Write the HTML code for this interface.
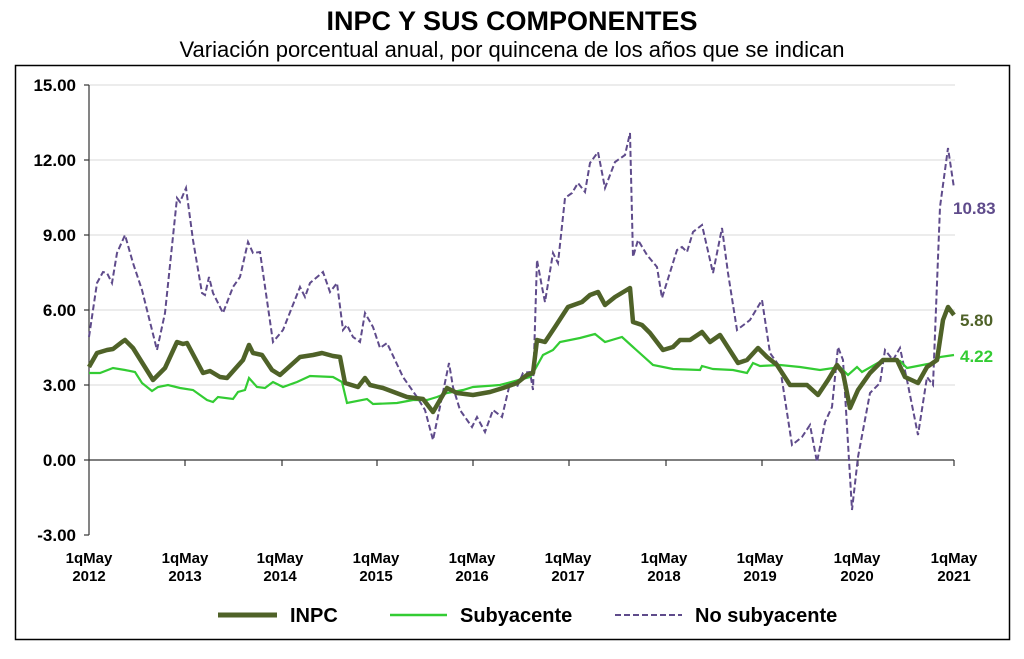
<!DOCTYPE html>
<html><head><meta charset="utf-8"><style>
body{margin:0;background:#fff;width:1024px;height:654px;overflow:hidden;font-family:"Liberation Sans",Arial,sans-serif}
</style></head><body>
<svg width="1024" height="654" xmlns="http://www.w3.org/2000/svg" font-family="Liberation Sans, Arial, sans-serif">
<text x="512" y="30" text-anchor="middle" font-size="27" font-weight="bold">INPC Y SUS COMPONENTES</text>
<text x="512" y="57" text-anchor="middle" font-size="22">Variación porcentual anual, por quincena de los años que se indican</text>
<rect x="15.5" y="65.5" width="994" height="574" fill="none" stroke="#000" stroke-width="1.5"/>
<g stroke="#d9d9d9" stroke-width="1">
<line x1="89" y1="85" x2="955" y2="85"/><line x1="89" y1="160" x2="955" y2="160"/><line x1="89" y1="235" x2="955" y2="235"/><line x1="89" y1="310" x2="955" y2="310"/><line x1="89" y1="385" x2="955" y2="385"/>
</g>
<g stroke="#333" stroke-width="1.2">
<line x1="89" y1="85" x2="89" y2="535"/>
<line x1="84" y1="85" x2="89" y2="85"/><line x1="84" y1="160" x2="89" y2="160"/><line x1="84" y1="235" x2="89" y2="235"/><line x1="84" y1="310" x2="89" y2="310"/><line x1="84" y1="385" x2="89" y2="385"/><line x1="84" y1="460" x2="89" y2="460"/><line x1="84" y1="535" x2="89" y2="535"/>
<line x1="89" y1="460" x2="954" y2="460"/>
<line x1="185" y1="460" x2="185" y2="466"/><line x1="282" y1="460" x2="282" y2="466"/><line x1="377" y1="460" x2="377" y2="466"/><line x1="473" y1="460" x2="473" y2="466"/><line x1="569" y1="460" x2="569" y2="466"/><line x1="666" y1="460" x2="666" y2="466"/><line x1="762" y1="460" x2="762" y2="466"/><line x1="858" y1="460" x2="858" y2="466"/><line x1="954" y1="460" x2="954" y2="466"/>
</g>
<g font-size="17" font-weight="bold" text-anchor="end">
<text x="76" y="91">15.00</text><text x="76" y="166">12.00</text><text x="76" y="241">9.00</text><text x="76" y="316">6.00</text><text x="76" y="391">3.00</text><text x="76" y="466">0.00</text><text x="76" y="541">-3.00</text>
</g>
<g font-size="15" font-weight="bold" text-anchor="middle">
<text x="89" y="563">1qMay</text><text x="89" y="581">2012</text>
<text x="185" y="563">1qMay</text><text x="185" y="581">2013</text>
<text x="280" y="563">1qMay</text><text x="280" y="581">2014</text>
<text x="376" y="563">1qMay</text><text x="376" y="581">2015</text>
<text x="472" y="563">1qMay</text><text x="472" y="581">2016</text>
<text x="568" y="563">1qMay</text><text x="568" y="581">2017</text>
<text x="664" y="563">1qMay</text><text x="664" y="581">2018</text>
<text x="760" y="563">1qMay</text><text x="760" y="581">2019</text>
<text x="857" y="563">1qMay</text><text x="857" y="581">2020</text>
<text x="954" y="563">1qMay</text><text x="954" y="581">2021</text>
</g>
<polyline fill="none" stroke="#5f4b8b" stroke-width="2" stroke-dasharray="6,3" points="89,337 97,283 103,272 107,273 112,283 117,253 125,235 133,263 142,290 157,350 165,313 177,198 180,202 186,188 193,240 202,293 205,295 209,277 213,293 223,313 233,287 240,277 248,242 253,253 260,252 273,342 283,330 300,287 305,297 310,283 323,272 330,292 337,283 343,330 347,325 353,337 360,342 365,313 373,327 380,348 387,343 403,377 417,397 425,410 433,440 442,397 449,363 453,387 460,410 472,427 477,417 485,432 493,410 502,417 510,383 517,387 523,373 530,372 533,390 537,260 542,287 545,302 553,253 558,263 565,198 572,193 578,183 585,192 590,163 598,152 605,188 615,162 625,155 630,133 633,257 638,240 647,255 657,267 662,298 677,250 682,247 687,252 693,232 702,225 713,273 722,228 728,273 737,330 750,320 762,300 770,353 780,367 792,445 802,437 810,425 817,462 825,422 832,407 838,347 843,360 852,510 858,457 870,393 880,383 885,350 893,360 900,348 907,380 918,435 927,377 933,385 940,207 948,148 954,188"/>
<polyline fill="none" stroke="#33cc33" stroke-width="2.2" points="89,373 100,373 113,368 125,370 135,372 142,383 152,391 158,387 168,385 180,388 193,390 207,400 213,402 218,397 233,399 238,392 245,390 249,378 257,387 265,388 273,382 283,387 297,382 310,376 333,377 342,382 347,403 367,399 373,404 397,403 413,400 427,400 437,397 447,393 463,390 473,387 500,385 530,377 533,373 543,355 553,350 560,342 580,338 595,334 605,342 622,337 633,347 653,365 673,369 700,370 702,366 713,369 733,370 747,373 753,363 760,366 780,365 800,367 820,370 840,367 848,375 857,367 862,372 883,360 900,361 907,368 933,363 940,357 954,355"/>
<polyline fill="none" stroke="#4f6228" stroke-width="4.5" stroke-linejoin="round" points="89,367 97,353 107,350 113,349 122,342 125,340 133,348 153,380 165,368 177,342 183,344 187,343 203,373 210,371 220,377 227,378 243,360 249,345 253,353 262,355 272,370 280,375 300,357 313,355 322,353 333,356 340,357 345,383 358,387 365,378 370,385 383,388 407,397 423,399 433,412 447,388 457,393 473,395 490,392 503,388 517,383 527,375 533,373 537,340 545,342 555,327 568,307 582,302 590,295 598,292 605,305 615,297 630,288 633,322 642,325 650,333 663,350 673,347 680,340 690,340 702,332 710,342 720,335 738,363 747,360 758,348 767,357 777,365 790,385 807,385 818,395 828,380 837,365 843,373 850,408 858,390 870,373 883,360 897,360 905,377 918,383 927,367 937,360 943,320 948,307 954,315"/>
<text x="953" y="214" font-size="17" font-weight="bold" fill="#5f4b8b">10.83</text>
<text x="960" y="326" font-size="17" font-weight="bold" fill="#4f6228">5.80</text>
<text x="960" y="362" font-size="17" font-weight="bold" fill="#33cc33">4.22</text>
<line x1="218" y1="615" x2="277" y2="615" stroke="#4f6228" stroke-width="5"/>
<text x="290" y="622" font-size="20" font-weight="bold">INPC</text>
<line x1="390" y1="615" x2="447" y2="615" stroke="#33cc33" stroke-width="2.5"/>
<text x="460" y="622" font-size="20" font-weight="bold">Subyacente</text>
<line x1="615" y1="615" x2="682" y2="615" stroke="#5f4b8b" stroke-width="2" stroke-dasharray="6,3"/>
<text x="695" y="622" font-size="20" font-weight="bold">No subyacente</text>
</svg>
</body></html>
